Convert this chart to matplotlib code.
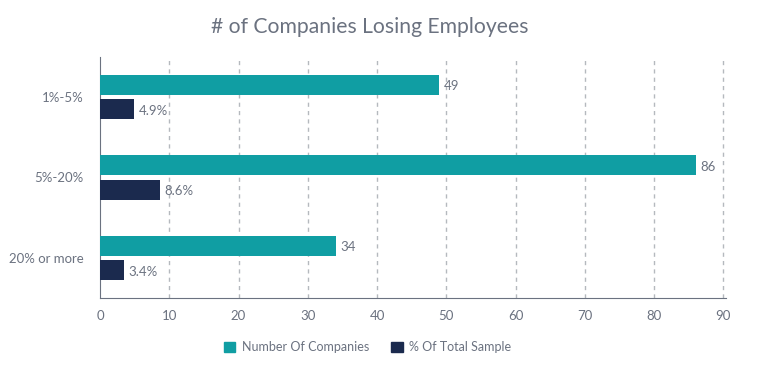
import matplotlib
matplotlib.use("Agg")
import matplotlib.pyplot as plt
from matplotlib.patches import Patch
import numpy as np

categories = ["1%-5%", "5%-20%", "20% or more"]
companies = [49, 86, 34]
pct_sample = [4.9, 8.6, 3.4]
pct_labels = ["4.9%", "8.6%", "3.4%"]
series_names = ["Number Of Companies", "% Of Total Sample"]

teal = "#109EA3"
navy = "#1B2A4E"
txt = "#6B7280"

plt.rcParams['font.family'] = ['Lato', 'DejaVu Sans']

fig = plt.figure(figsize=(7.77, 3.9), dpi=100)
ax = fig.add_axes([100/777, (390-298)/390, 625.5/777, 241/390])

y = np.arange(len(categories))
h = 0.25
off = 0.153
ax.barh(y - off, companies, height=h, color=teal, zorder=3)
ax.barh(y + off, pct_sample, height=h, color=navy, zorder=3)

for yi, v in zip(y, companies):
    ax.text(v + 0.7, yi - off + 0.02, str(v), va='center', ha='left', color=txt, fontsize=9.5)
for yi, v, l in zip(y, pct_sample, pct_labels):
    ax.text(v + 0.7, yi + off + 0.02, l, va='center', ha='left', color=txt, fontsize=9.5)

ax.set_xlim(0, 90.3)
ax.set_ylim(len(categories) - 0.5, -0.5)
ax.set_xticks(np.arange(0, 91, 10))
ax.set_yticks(y)
ax.set_yticklabels(categories)
ax.tick_params(axis='both', length=0, colors=txt, labelsize=9.5)
ax.tick_params(axis='x', pad=9)
ax.tick_params(axis='y', pad=12)
for x in range(10, 91, 10):
    ax.axvline(x, color='#B5B9BE', linestyle=(0, (3, 3)), linewidth=1, zorder=1)
for s in ['top', 'right']:
    ax.spines[s].set_visible(False)
ax.spines['left'].set_color('#6B7280')
ax.spines['bottom'].set_color('#6B7280')

fig.text(370/777, 1 - 27/390, "# of Companies Losing Employees", ha='center', va='center',
         fontsize=15.2, color='#6B7280')

handles = [Patch(color=teal), Patch(color=navy)]
fig.legend(handles, series_names, loc='center', bbox_to_anchor=(0.473, 1 - 347/390),
           ncol=2, frameon=False, fontsize=9, labelcolor=txt, handlelength=0.9,
           handleheight=0.9, handletextpad=0.5, columnspacing=1.8)

fig.savefig("out.png", dpi=100)
